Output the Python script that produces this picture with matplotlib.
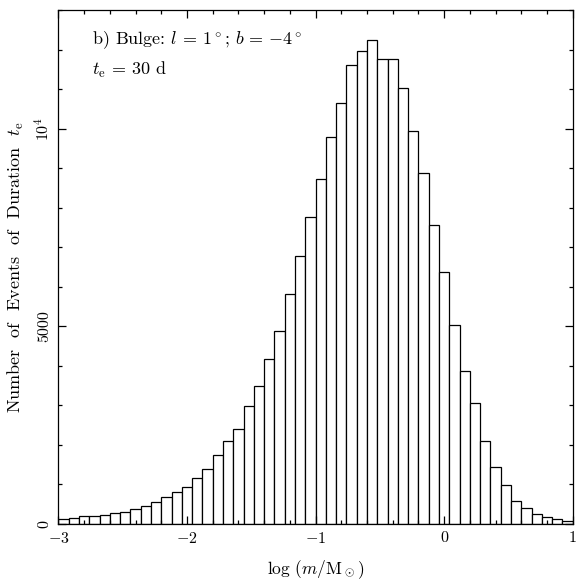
import matplotlib
matplotlib.use("Agg")
import matplotlib.pyplot as plt
import numpy as np
from matplotlib.ticker import MultipleLocator

plt.rcParams['font.family'] = 'serif'
plt.rcParams['font.serif'] = ['cmr10', 'DejaVu Serif']
plt.rcParams['mathtext.fontset'] = 'cm'
plt.rcParams['axes.unicode_minus'] = False
plt.rcParams['axes.formatter.use_mathtext'] = True

# histogram: 50 bins of width 0.08 in log(m/Msun), from -3 to 1
bin_lo = -3.0
bin_width = 0.08
counts = [120, 152, 203, 203, 228, 287, 295, 388, 456, 549,
          675, 802, 937, 1165, 1401, 1738, 2093, 2397, 2979, 3500,
          4169, 4869, 5806, 6776, 7764, 8726, 9789, 10658, 11612, 11975,
          12245, 11755, 11755, 11030, 9932, 8869, 7570, 6363, 5030, 3882,
          3055, 2110, 1443, 987, 591, 405, 245, 177, 118, 68]

edges = bin_lo + bin_width * np.arange(len(counts))

fig = plt.figure(figsize=(5.78, 5.83), dpi=100)
ax = fig.add_axes([0.1012, 0.1012, 0.8896, 0.8816])

ax.bar(edges, counts, width=bin_width, align='edge',
       facecolor='white', edgecolor='black', linewidth=0.9)

ax.set_xlim(-3, 1)
ax.set_ylim(0, 13000)

ax.xaxis.set_minor_locator(MultipleLocator(0.2))
ax.set_yticks([0, 5000, 10000])
ax.set_yticklabels(['0', '5000', r'$10^4$'], rotation=90, va='center')
ax.yaxis.set_minor_locator(MultipleLocator(1000))
ax.set_xticks([-3, -2, -1, 0, 1])
ax.set_xticklabels([r'$-3$', r'$-2$', r'$-1$', '0', '1'])

ax.tick_params(which='both', direction='in', top=True, right=True,
               labelsize=11.5, width=0.9)
ax.tick_params(which='major', length=5.5)
ax.tick_params(which='minor', length=3)
ax.tick_params(axis='x', pad=5)
ax.tick_params(axis='y', pad=5)
for s in ax.spines.values():
    s.set_linewidth(0.9)

ax.set_xlabel(r'log ($m$/M$_\odot$)', fontsize=12.5, labelpad=9)
ax.set_ylabel(r'Number  of  Events  of  Duration  $t_{\rm e}$', fontsize=13, labelpad=5)

ax.text(0.065, 0.962, r'b) Bulge: $l$ = 1$^\circ$; $b$ = $-$4$^\circ$',
        transform=ax.transAxes, fontsize=13, va='top')
ax.text(0.065, 0.903, r'$t_{\rm e}$ = 30 d',
        transform=ax.transAxes, fontsize=13, va='top')

fig.savefig('out.png', dpi=100)
